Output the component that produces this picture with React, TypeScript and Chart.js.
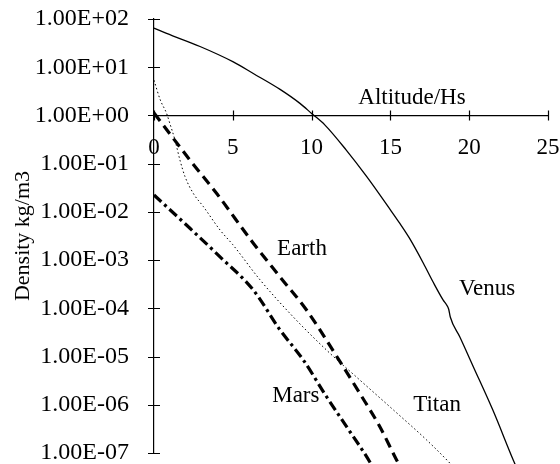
import React, { useEffect, useRef } from "react";
import { Chart, registerables } from "chart.js";

Chart.register(...registerables);

// ---- data ----
const xTickValues = [0, 5, 10, 15, 20, 25];
const yTickValues = [1e-7, 1e-6, 1e-5, 1e-4, 1e-3, 1e-2, 1e-1, 1e0, 1e1, 1e2];
const yTickLabels = ["1.00E-07", "1.00E-06", "1.00E-05", "1.00E-04", "1.00E-03", "1.00E-02", "1.00E-01", "1.00E+00", "1.00E+01", "1.00E+02"];

const venusX = [0, 0.8, 2.92, 5.03, 6.3, 8, 9.26, 10, 10.85, 12.2, 13.5, 15, 15.6, 16.2, 17.1, 17.7, 18.35, 18.55, 18.7, 18.8, 19.4, 20.26, 21.5, 22.8, 23.2];
const venusY = [64.6, 50.1, 26.9, 12.9, 7.41, 3.47, 1.78, 1.1, 0.631, 0.191, 0.0537, 0.011, 0.00575, 0.00288, 8.51e-4, 3.55e-4, 1.48e-4, 1.2e-4, 9.55e-5, 6.61e-5, 2.57e-5, 6.17e-6, 7.76e-7, 7.08e-8, 3.55e-8];

const earthX = [0, 2.28, 3.98, 6.3, 8, 9.69, 11.6, 13.07, 14.34, 15.4, 16];
const earthY = [1.12, 0.119, 0.024, 0.00224, 4.47e-4, 9.12e-5, 1.0e-5, 1.7e-6, 3.47e-7, 7.08e-8, 3.16e-8];

const marsX = [0, 2.28, 4.19, 6.3, 8, 9.47, 10.96, 12.23, 13.5, 13.9];
const marsY = [0.0224, 0.00457, 0.00117, 2.4e-4, 3.55e-5, 8.51e-6, 1.45e-6, 3.47e-7, 8.32e-8, 5.01e-8];

const titanX = [0, 0.4, 0.8, 1.0, 1.33, 1.65, 1.97, 2.5, 3.13, 4.2, 5, 6.73, 8.84, 10.96, 13.07, 15.2, 17.3, 18.8, 19.3];
const titanY = [5.37, 2.09, 1.1, 0.692, 0.309, 0.1175, 0.0537, 0.024, 0.0129, 0.00417, 0.00209, 3.89e-4, 6.61e-5, 1.35e-5, 3.24e-6, 7.76e-7, 1.86e-7, 6.03e-8, 3.98e-8];

const seriesNames = ["Venus", "Earth", "Mars", "Titan"];

// in-plot labels (data coordinates)
const labelTexts = ["Earth", "Venus", "Titan", "Mars", "Altitude/Hs"];
const labelX = [9.39, 21.13, 17.96, 9.0, 16.37];
const labelY = [1.7e-3, 2.5e-4, 9.8e-7, 1.51e-6, 2.34];

const yTitle = "Density kg/m3";

const FONT_FAMILY = "'Liberation Serif', 'Times New Roman', serif";

const pts = (xs: number[], ys: number[]) => xs.map((x, i) => ({ x, y: ys[i] }));

const textPlugin = {
  id: "inPlotTexts",
  afterDatasetsDraw(chart: any) {
    const { ctx, scales } = chart;
    const xs = scales.x;
    const ys = scales.y;
    ctx.save();
    // cross tick marks
    ctx.strokeStyle = "#000";
    ctx.lineWidth = 1.2;
    const x0 = xs.getPixelForValue(0);
    const y0 = ys.getPixelForValue(1);
    ctx.beginPath();
    yTickValues.forEach((v) => {
      const py = Math.round(ys.getPixelForValue(v)) + 0.5;
      ctx.moveTo(x0 - 6, py);
      ctx.lineTo(x0 + 6, py);
    });
    xTickValues.forEach((v) => {
      const px = Math.round(xs.getPixelForValue(v)) + 0.5;
      ctx.moveTo(px, y0 - 5);
      ctx.lineTo(px, y0 + 5);
    });
    ctx.stroke();
    // texts
    ctx.font = `23px ${FONT_FAMILY}`;
    ctx.fillStyle = "#000";
    ctx.textAlign = "center";
    ctx.textBaseline = "middle";
    labelTexts.forEach((t, i) => {
      ctx.fillText(t, xs.getPixelForValue(labelX[i]), ys.getPixelForValue(labelY[i]));
    });
    ctx.restore();
  },
};

export default function App() {
  const ref = useRef<HTMLCanvasElement | null>(null);

  useEffect(() => {
    if (!ref.current) return;
    const lineBase = {
      pointRadius: 0,
      borderColor: "#000",
      backgroundColor: "#000",
      fill: false,
      cubicInterpolationMode: "monotone" as const,
      clip: false as any,
    };
    const chart = new Chart(ref.current, {
      type: "line",
      data: {
        datasets: [
          { ...lineBase, label: seriesNames[0], data: pts(venusX, venusY), borderWidth: 1.3 },
          { ...lineBase, label: seriesNames[1], data: pts(earthX, earthY), borderWidth: 3.2, borderDash: [10, 6] },
          { ...lineBase, label: seriesNames[2], data: pts(marsX, marsY), borderWidth: 3.2, borderDash: [10, 4, 3, 4] },
          { ...lineBase, label: seriesNames[3], data: pts(titanX, titanY), borderWidth: 1, borderDash: [1.5, 2.5] },
        ],
      },
      options: {
        animation: false,
        responsive: false,
        maintainAspectRatio: false,
        layout: { padding: { top: 19, bottom: 11, left: 0, right: 12 } },
        plugins: { legend: { display: false }, tooltip: { enabled: false } },
        scales: {
          x: {
            type: "linear",
            position: { y: 1 } as any,
            min: 0,
            max: 25,
            afterBuildTicks: (scale: any) => {
              scale.ticks = xTickValues.map((v) => ({ value: v }));
            },
            afterFit: (scale: any) => {
              scale.paddingLeft = 0;
              scale.paddingRight = 0;
            },
            ticks: {
              color: "#000",
              font: { family: FONT_FAMILY, size: 23 },
              padding: 11,
              maxRotation: 0,
              autoSkip: false,
            },
            grid: { display: false },
            border: { display: true, color: "#000", width: 1.2 },
          },
          y: {
            type: "logarithmic",
            min: 1e-7,
            max: 1e2,
            afterBuildTicks: (scale: any) => {
              scale.ticks = yTickValues.map((v) => ({ value: v }));
            },
            afterFit: (scale: any) => {
              scale.width = 154;
              scale.paddingTop = 0;
              scale.paddingBottom = 0;
            },
            ticks: {
              color: "#000",
              font: { family: FONT_FAMILY, size: 24 },
              padding: 17,
              autoSkip: false,
              callback: (value: any) => {
                const v = Number(value);
                let best = 0;
                let bd = Infinity;
                yTickValues.forEach((t, i) => {
                  const d = Math.abs(Math.log10(t) - Math.log10(v));
                  if (d < bd) { bd = d; best = i; }
                });
                return yTickLabels[best];
              },
            },
            grid: { display: false },
            border: { display: true, color: "#000", width: 1.2 },
            title: {
              display: true,
              text: yTitle,
              color: "#000",
              font: { family: FONT_FAMILY, size: 22 },
              padding: { top: 10, bottom: 0 },
            },
          },
        },
      },
      plugins: [textPlugin],
    });
    return () => chart.destroy();
  }, []);

  return (
    <div style={{ position: "absolute", left: 0, top: 0, width: 560, height: 464, background: "#fff" }}>
      <canvas ref={ref} width={560} height={464} style={{ width: 560, height: 464, display: "block" }} />
    </div>
  );
}
